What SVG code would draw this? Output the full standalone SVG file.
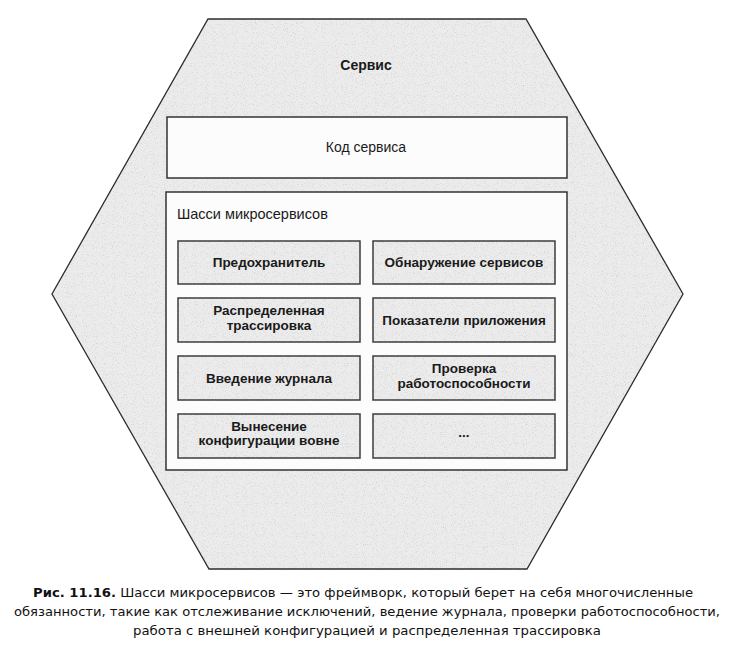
<svg xmlns="http://www.w3.org/2000/svg" width="734" height="653" viewBox="0 0 734 653">
  <defs>
    <!-- fine paper speckle for the grey fills -->
    <filter id="grain" x="-2%" y="-2%" width="104%" height="104%" color-interpolation-filters="sRGB">
      <feTurbulence type="fractalNoise" baseFrequency="0.9" numOctaves="2" seed="7" result="noise"/>
      <feColorMatrix in="noise" type="matrix" values="0 0 0 0 0.55  0 0 0 0 0.55  0 0 0 0 0.55  0.8 0 0 0 -0.42" result="specks"/>
      <feComposite in="specks" in2="SourceGraphic" operator="atop"/>
    </filter>
  </defs>
  <style>
    .hex { fill: #ececec; stroke: #2b2b2b; stroke-width: 1.3; }
    .panel { fill: #fcfcfc; stroke: #333333; stroke-width: 1.5; }
    .part { fill: #ececec; stroke: #3a3a3a; stroke-width: 1.5; }
    .lbl { font-family: "Liberation Sans", Arial, sans-serif; fill: #1a1a1a; }
    .title { font-size: 14px; font-weight: bold; text-anchor: middle; }
    .code { font-size: 14px; text-anchor: middle; }
    .chassis { font-size: 14.5px; }
    .item { font-size: 13.5px; font-weight: bold; text-anchor: middle; }
    .cap { font-family: "DejaVu Sans", Verdana, sans-serif; font-size: 13px; fill: #111111; text-anchor: middle; }
  </style>

  <!-- service hexagon -->
  <g id="service">
    <polygon class="hex" filter="url(#grain)" points="208,19 526,19 683,294 527,569 209,569 52,294"/>
    <text class="lbl title" x="366" y="70">Сервис</text>
  </g>

  <!-- service code panel -->
  <g id="service-code">
    <rect class="panel" x="167" y="117" width="400" height="61"/>
    <text class="lbl code" x="366" y="152">Код сервиса</text>
  </g>

  <!-- microservice chassis panel -->
  <g id="chassis">
    <rect class="panel" x="166" y="192" width="401" height="278"/>
    <text class="lbl chassis" x="177" y="219">Шасси микросервисов</text>
  </g>

  <!-- chassis capabilities -->
  <g id="circuit-breaker">
    <rect class="part" filter="url(#grain)" x="178" y="241" width="182" height="43"/>
    <text class="lbl item" x="269" y="267">Предохранитель</text>
  </g>
  <g id="service-discovery">
    <rect class="part" filter="url(#grain)" x="373" y="241" width="182" height="43"/>
    <text class="lbl item" x="464" y="267">Обнаружение сервисов</text>
  </g>
  <g id="distributed-tracing">
    <rect class="part" filter="url(#grain)" x="178" y="298" width="182" height="44"/>
    <text class="lbl item" x="269" y="315">Распределенная</text>
    <text class="lbl item" x="269" y="330">трассировка</text>
  </g>
  <g id="app-metrics">
    <rect class="part" filter="url(#grain)" x="373" y="298" width="182" height="44"/>
    <text class="lbl item" x="464" y="324.5">Показатели приложения</text>
  </g>
  <g id="logging">
    <rect class="part" filter="url(#grain)" x="178" y="356" width="182" height="44"/>
    <text class="lbl item" x="269" y="382.5">Введение журнала</text>
  </g>
  <g id="health-check">
    <rect class="part" filter="url(#grain)" x="373" y="356" width="182" height="44"/>
    <text class="lbl item" x="464" y="373">Проверка</text>
    <text class="lbl item" x="464" y="388">работоспособности</text>
  </g>
  <g id="externalized-config">
    <rect class="part" filter="url(#grain)" x="178" y="414" width="182" height="44"/>
    <text class="lbl item" x="269" y="431">Вынесение</text>
    <text class="lbl item" x="269" y="445">конфигурации вовне</text>
  </g>
  <g id="more">
    <rect class="part" filter="url(#grain)" x="373" y="414" width="182" height="44"/>
    <text class="lbl item" x="464" y="437">...</text>
  </g>

  <!-- connectors: none drawn -->
  <g id="connectors"/>

  <!-- figure caption -->
  <g id="caption">
    <text class="cap" x="363" y="597" textLength="660" lengthAdjust="spacingAndGlyphs"><tspan font-weight="bold">Рис. 11.16.</tspan> Шасси микросервисов — это фреймворк, который берет на себя многочисленные</text>
    <text class="cap" x="367" y="616" textLength="706" lengthAdjust="spacingAndGlyphs">обязанности, такие как отслеживание исключений, ведение журнала, проверки работоспособности,</text>
    <text class="cap" x="367" y="635" textLength="468" lengthAdjust="spacingAndGlyphs">работа с внешней конфигурацией и распределенная трассировка</text>
  </g>
</svg>
